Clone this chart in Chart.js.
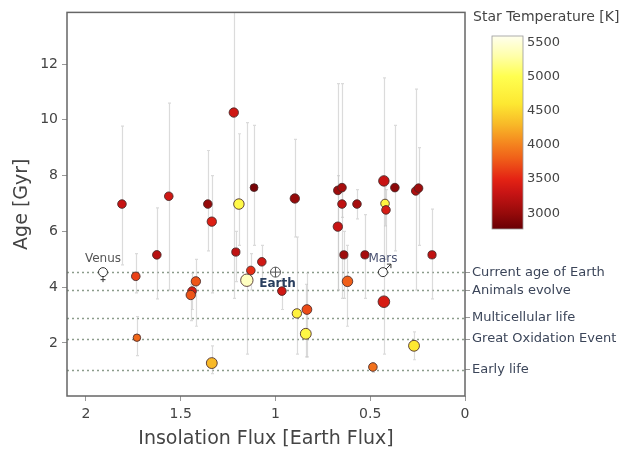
<!DOCTYPE html>
<html>
<head>
<meta charset="utf-8">
<script src="https://cdn.jsdelivr.net/npm/chart.js@4"></script>
<style>
  body { margin: 0; background: #fff; }
  canvas { display: block; }
</style>
</head>
<body>
<canvas id="chart" width="638" height="458"></canvas>
<script>
// planet data
const fluxVals = [1.81, 1.563, 1.357, 1.336, 1.22, 1.193, 1.113, 0.898, 0.671, 0.649,
                  0.649, 0.57, 0.428, 0.37, 0.26, 0.245, 0.422, 0.417, 0.671, 1.626,
                  1.209, 1.072, 1.13, 0.639, 0.528, 0.174, 1.737, 1.42, 1.44, 1.447,
                  1.151, 0.966, 0.62, 0.428, 0.887, 0.834, 0.84, 1.731, 1.336, 0.486, 0.269];
const ageVals = [6.98, 7.26, 6.98, 6.35, 10.26, 6.98, 7.57, 7.18, 7.47, 7.57,
                 6.98, 6.98, 7.81, 7.57, 7.45, 7.55, 7.0, 6.77, 6.17, 5.16,
                 5.26, 4.91, 4.6, 5.16, 5.16, 5.16, 4.39, 4.21, 3.86, 3.72,
                 4.25, 3.86, 4.21, 3.48, 3.06, 3.2, 2.33, 2.19, 1.28, 1.14, 1.9];
const ageHi = [9.77, 10.6, 8.9, 8.0, 14.5, 9.5, 9.8, 9.3, 11.3, 11.3,
               7.5, 7.5, 11.5, 9.8, 11.1, 9.0, 7.6, 7.5, 8.0, 6.84,
               6.0, 5.5, 5.2, 6.0, 6.6, 6.8, 5.2, 5.0, 4.5, 4.1,
               9.9, 4.3, 5.5, 5.0, 5.8, 4.5, 4.1, 2.95, 1.9, 1.3, 2.4];
const ageLo = [4.8, 3.9, 5.3, 3.8, 3.6, 5.5, 5.5, 5.8, 3.9, 3.6,
               6.5, 6.45, 5.0, 5.3, 3.9, 5.5, 6.2, 5.0, 3.9, 3.58,
               4.2, 4.3, 3.9, 3.6, 3.6, 3.58, 3.8, 2.6, 3.2, 2.8,
               1.6, 3.2, 2.6, 1.6, 1.6, 1.5, 1.5, 1.55, 0.9, 0.95, 1.4];
const starTemp = [3300, 3350, 3000, 3450, 3350, 4900, 2850, 3000, 3050, 3100,
                  3250, 3100, 3300, 2950, 3150, 3050, 4800, 3400, 3300, 3200,
                  3250, 3350, 3550, 3050, 3100, 3250, 3650, 3750, 3400, 3750,
                  5400, 3350, 3800, 3400, 4750, 3700, 4850, 3850, 4300, 3900, 4600];
const planetRadius = [1.0, 1.0, 1.0, 1.2, 1.2, 1.5, 0.8, 1.2, 1.0, 1.0,
                      1.0, 1.0, 1.5, 1.0, 1.0, 1.0, 1.0, 1.0, 1.2, 1.0,
                      0.9, 1.0, 1.0, 0.9, 0.9, 0.9, 1.0, 1.2, 1.0, 1.2,
                      2.0, 1.0, 1.5, 1.8, 1.2, 1.3, 1.6, 0.7, 1.6, 1.0, 1.6];

// solar system
const solarNames = ['Venus', 'Earth', 'Mars'];
const solarFlux = [1.91, 1.0, 0.433];
const solarAge = [4.54, 4.54, 4.54];

// milestones on the right axis
const milestoneAges = [4.54, 3.89, 2.9, 2.14, 1.04];
const milestoneNames = ['Current age of Earth', 'Animals evolve', 'Multicellular life',
                        'Great Oxidation Event', 'Early life'];

const xTicks = [0, 0.5, 1, 1.5, 2];
const yTicks = [2, 4, 6, 8, 10, 12];
const cbarTicks = [3000, 3500, 4000, 4500, 5000, 5500];
const cbarMin = 2770, cbarMax = 5590;

// colour scale (temperature -> rgb)
const tempStops = [
  [2770, [105, 0, 5]],
  [3000, [150, 10, 10]],
  [3300, [200, 20, 20]],
  [3500, [228, 35, 20]],
  [3800, [240, 95, 25]],
  [4000, [244, 130, 30]],
  [4300, [248, 185, 40]],
  [4600, [253, 232, 50]],
  [5000, [255, 255, 80]],
  [5300, [255, 255, 170]],
  [5590, [255, 255, 238]]
];

function tempColor(t) {
  for (let i = 1; i < tempStops.length; i++) {
    if (t <= tempStops[i][0]) {
      const [t0, c0] = tempStops[i - 1], [t1, c1] = tempStops[i];
      const f = Math.max(0, (t - t0) / (t1 - t0));
      const c = c0.map((v, k) => Math.round(v + (c1[k] - v) * f));
      return `rgb(${c[0]},${c[1]},${c[2]})`;
    }
  }
  const c = tempStops[tempStops.length - 1][1];
  return `rgb(${c[0]},${c[1]},${c[2]})`;
}

const FONT = "'DejaVu Sans', Verdana, sans-serif";
Chart.defaults.font.family = FONT;
Chart.defaults.color = '#444';

const overlay = {
  id: 'overlay',
  beforeDatasetsDraw(chart) {
    const { ctx, chartArea: a, scales: { x, y } } = chart;
    ctx.save();
    ctx.beginPath();
    ctx.rect(a.left, a.top, a.right - a.left, a.bottom - a.top);
    ctx.clip();

    // dotted milestone lines
    ctx.strokeStyle = '#8c9c8c';
    ctx.lineWidth = 1.3;
    ctx.setLineDash([2, 3]);
    milestoneAges.forEach(v => {
      const py = Math.round(y.getPixelForValue(v)) + 0.5;
      ctx.beginPath();
      ctx.moveTo(a.left, py);
      ctx.lineTo(a.right, py);
      ctx.stroke();
    });
    ctx.setLineDash([]);

    // age error bars
    ctx.strokeStyle = 'rgba(195,195,195,0.6)';
    ctx.lineWidth = 1.2;
    fluxVals.forEach((f, i) => {
      const px = Math.round(x.getPixelForValue(f)) + 0.5;
      const pTop = y.getPixelForValue(ageHi[i]);
      const pBot = y.getPixelForValue(ageLo[i]);
      ctx.beginPath();
      ctx.moveTo(px, pTop); ctx.lineTo(px, pBot);
      ctx.moveTo(px - 1.5, pTop); ctx.lineTo(px + 1.5, pTop);
      ctx.moveTo(px - 1.5, pBot); ctx.lineTo(px + 1.5, pBot);
      ctx.stroke();
    });
    ctx.restore();
  },
  afterDraw(chart) {
    const { ctx, chartArea: a, scales: { x, y } } = chart;
    ctx.save();

    // frame
    ctx.strokeStyle = '#666';
    ctx.lineWidth = 1.5;
    ctx.strokeRect(a.left, a.top, a.right - a.left, a.bottom - a.top);

    // solar system symbols
    const px = solarFlux.map(f => x.getPixelForValue(f));
    const py = solarAge.map(v => y.getPixelForValue(v));
    ctx.lineWidth = 1;
    ctx.strokeStyle = '#333';
    ctx.fillStyle = '#fff';
    // Venus
    ctx.beginPath(); ctx.arc(px[0], py[0], 4.5, 0, Math.PI * 2); ctx.fill(); ctx.stroke();
    ctx.beginPath();
    ctx.moveTo(px[0], py[0] + 4.5); ctx.lineTo(px[0], py[0] + 10);
    ctx.moveTo(px[0] - 2.5, py[0] + 7.5); ctx.lineTo(px[0] + 2.5, py[0] + 7.5);
    ctx.stroke();
    // Earth
    ctx.strokeStyle = '#555';
    ctx.beginPath(); ctx.arc(px[1], py[1], 5, 0, Math.PI * 2); ctx.fill(); ctx.stroke();
    ctx.beginPath();
    ctx.moveTo(px[1] - 5, py[1]); ctx.lineTo(px[1] + 5, py[1]);
    ctx.moveTo(px[1], py[1] - 5); ctx.lineTo(px[1], py[1] + 5);
    ctx.stroke();
    // Mars
    ctx.strokeStyle = '#333';
    ctx.beginPath(); ctx.arc(px[2], py[2], 4.5, 0, Math.PI * 2); ctx.fill(); ctx.stroke();
    ctx.beginPath();
    ctx.moveTo(px[2] + 3.2, py[2] - 3.2); ctx.lineTo(px[2] + 8, py[2] - 8);
    ctx.moveTo(px[2] + 8, py[2] - 8); ctx.lineTo(px[2] + 4, py[2] - 8);
    ctx.moveTo(px[2] + 8, py[2] - 8); ctx.lineTo(px[2] + 8, py[2] - 4);
    ctx.stroke();

    ctx.textAlign = 'center';
    ctx.textBaseline = 'middle';
    ctx.font = `12px ${FONT}`;
    ctx.fillStyle = '#555';
    ctx.fillText(solarNames[0], px[0], py[0] - 13);
    ctx.fillStyle = '#4a5272';
    ctx.fillText(solarNames[2], px[2], py[2] - 13);
    ctx.font = `bold 12px ${FONT}`;
    ctx.fillStyle = '#2a3f5f';
    ctx.fillText(solarNames[1], px[1] + 2, py[1] + 12);

    // colour bar
    const cbL = 492, cbW = 31, cbTop = 36, cbBot = 229;
    const tPix = t => cbBot - (t - cbarMin) / (cbarMax - cbarMin) * (cbBot - cbTop);
    const grad = ctx.createLinearGradient(0, cbBot, 0, cbTop);
    tempStops.forEach(([t]) => grad.addColorStop((t - cbarMin) / (cbarMax - cbarMin), tempColor(t)));
    ctx.fillStyle = grad;
    ctx.fillRect(cbL, cbTop, cbW, cbBot - cbTop);
    ctx.strokeStyle = '#999';
    ctx.lineWidth = 0.8;
    ctx.strokeRect(cbL, cbTop, cbW, cbBot - cbTop);

    ctx.fillStyle = '#444';
    ctx.textAlign = 'left';
    ctx.font = `13px ${FONT}`;
    cbarTicks.forEach(t => ctx.fillText(String(t), cbL + cbW + 4, tPix(t)));
    ctx.font = `14px ${FONT}`;
    ctx.fillText('Star Temperature [K]', 473, 17);
    ctx.restore();
  }
};

new Chart(document.getElementById('chart'), {
  type: 'scatter',
  data: {
    datasets: [{
      data: fluxVals.map((f, i) => ({ x: f, y: ageVals[i] })),
      backgroundColor: starTemp.map(tempColor),
      borderColor: 'rgba(70,40,40,0.85)',
      borderWidth: 1,
      pointRadius: planetRadius.map(r => 2.4 + 1.9 * r),
      pointHoverRadius: planetRadius.map(r => 2.4 + 1.9 * r)
    }]
  },
  options: {
    responsive: false,
    animation: false,
    devicePixelRatio: 1,
    layout: { padding: { top: 5, left: 0, right: 0, bottom: 0 } },
    plugins: { legend: { display: false }, tooltip: { enabled: false } },
    scales: {
      x: {
        type: 'linear',
        reverse: true,
        min: 0,
        max: 2.1,
        afterBuildTicks: s => { s.ticks = xTicks.map(v => ({ value: v })); },
        afterFit: s => { s.height = 62; },
        ticks: { font: { size: 14 }, color: '#444', padding: 5, callback: v => String(v) },
        grid: { drawOnChartArea: false, tickLength: 5, color: '#999' },
        border: { display: false },
        title: {
          display: true,
          text: 'Insolation Flux [Earth Flux]',
          font: { size: 19 },
          color: '#444',
          padding: { top: 0, bottom: 8 }
        }
      },
      y: {
        type: 'linear',
        min: 0.1,
        max: 13.85,
        afterBuildTicks: s => { s.ticks = yTicks.map(v => ({ value: v })); },
        afterFit: s => { s.width = 67; },
        ticks: { font: { size: 14 }, color: '#444', padding: 4 },
        grid: { drawOnChartArea: false, tickLength: 5, color: '#999' },
        border: { display: false },
        title: {
          display: true,
          text: 'Age [Gyr]',
          font: { size: 19 },
          color: '#444',
          padding: { top: 11, bottom: 0 }
        }
      },
      yR: {
        type: 'linear',
        position: 'right',
        min: 0.1,
        max: 13.85,
        afterBuildTicks: s => { s.ticks = milestoneAges.map(v => ({ value: v })); },
        afterFit: s => { s.width = 173; },
        ticks: {
          font: { size: 13 },
          color: '#3b4559',
          padding: 2,
          callback: (v, i) => milestoneNames[i]
        },
        grid: { drawOnChartArea: false, tickLength: 5, color: '#999' },
        border: { display: false }
      }
    }
  },
  plugins: [overlay]
});
</script>
</body>
</html>
